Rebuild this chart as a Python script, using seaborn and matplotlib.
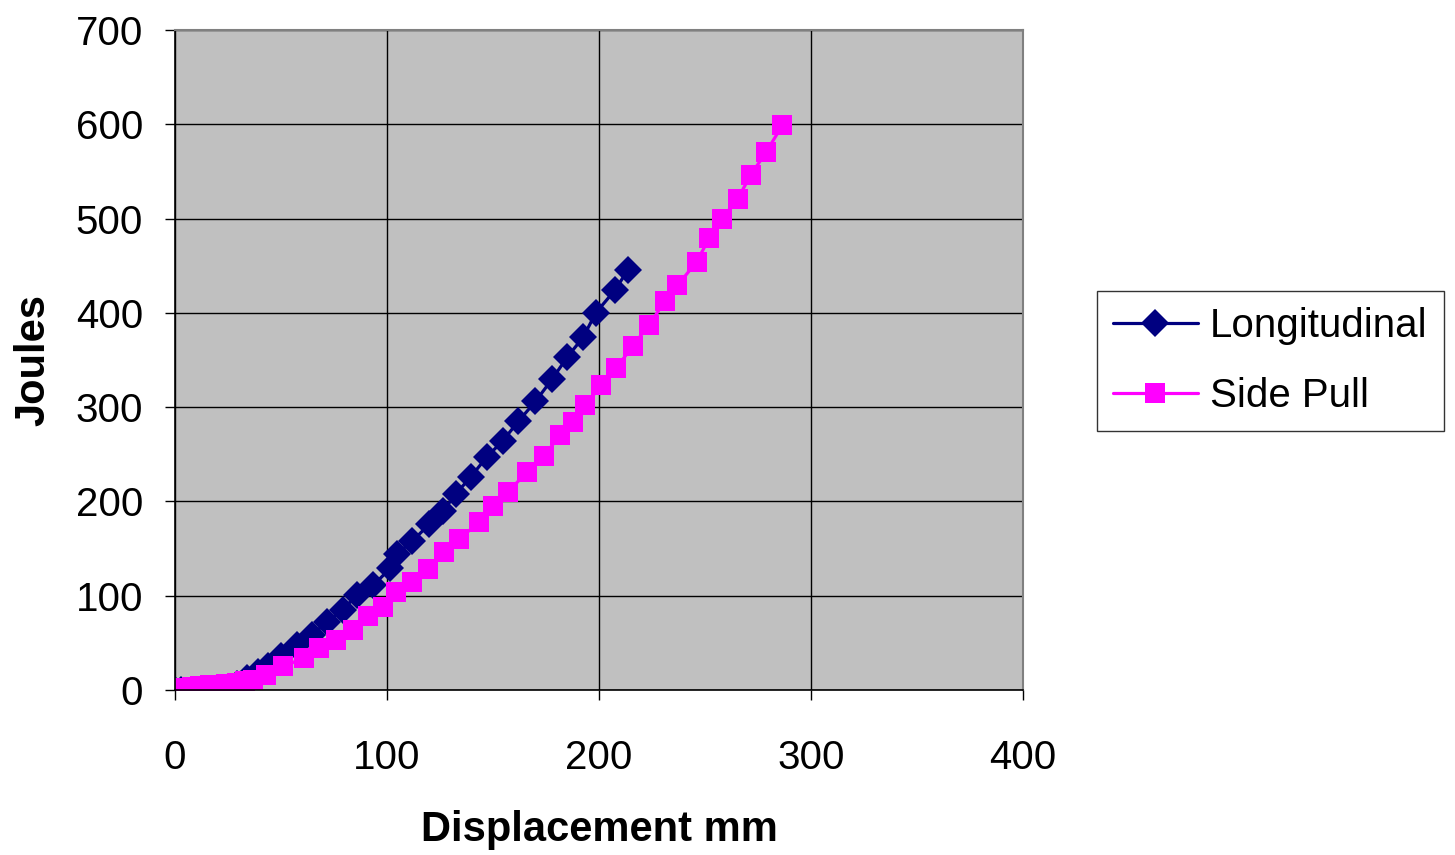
import pandas as pd
import seaborn as sns
import matplotlib.pyplot as plt

# Values
long_mm = [0, 3, 8, 15, 22, 29, 34, 39, 44, 50, 57.5, 64.5, 71.5, 79, 86, 93.5,
           101.5, 104.5, 112, 120, 126.5, 132.5, 139.5, 147, 154.5, 162, 170,
           178, 185, 192.5, 198.5, 207.5, 213.5]
long_j = [0, 0, 0, 0, 1, 6, 13, 19, 25, 36, 48, 58, 72, 85, 101, 111,
          129, 144, 158, 176, 190, 208, 226, 247, 264, 285, 306,
          330, 353, 374, 400, 424, 445]

side_mm = [0, 4, 8, 12, 16.5, 24, 29, 33, 37, 43, 51, 61, 68, 76, 84, 91, 98,
           104, 112, 119.5, 127, 134, 143.5, 150, 157, 166, 174, 181.5, 187.5,
           193.5, 201, 208, 216, 223.5, 231, 237, 246, 252, 258, 265.5, 271.5,
           279, 286.5]
side_j = [0, 2, 3, 4, 5, 6, 7, 9, 11, 16, 25, 34, 44, 53, 64, 78, 88,
          104, 114, 128, 146, 160, 178, 195, 210, 231, 248, 270, 284,
          302, 323, 341, 365, 387, 412, 429, 454, 479, 500, 521, 546,
          571, 599]

series_names = ['Longitudinal', 'Side Pull']
colors = ['#000080', '#FF00FF']

df = pd.concat([
    pd.DataFrame({'mm': long_mm, 'J': long_j, 'series': series_names[0]}),
    pd.DataFrame({'mm': side_mm, 'J': side_j, 'series': series_names[1]}),
])

sns.set_style('white')
plt.rcParams['font.family'] = ['Liberation Sans', 'DejaVu Sans']
plt.rcParams['text.color'] = 'black'
plt.rcParams['axes.labelcolor'] = 'black'
plt.rcParams['xtick.color'] = 'black'
plt.rcParams['ytick.color'] = 'black'

fig = plt.figure(figsize=(14.55, 8.55), dpi=100)
ax = fig.add_axes([0.1203, 0.193, 0.5828, 0.772])
ax.set_facecolor('#C0C0C0')

sns.lineplot(data=df, x='mm', y='J', hue='series', style='series',
             markers=['D', 's'], dashes=False, palette=colors,
             markersize=14.5, linewidth=2.3, markeredgewidth=0,
             sort=False, estimator=None, ax=ax, legend=False)

ax.set_xlim(0, 400)
ax.set_ylim(0, 700)
ax.set_xticks(range(0, 401, 100))
ax.set_yticks(range(0, 701, 100))
ax.grid(True, color='black', linewidth=1)
ax.set_axisbelow(True)

for side in ['top', 'right']:
    ax.spines[side].set_color('#808080')
    ax.spines[side].set_linewidth(1.5)
for side in ['left', 'bottom']:
    ax.spines[side].set_color('black')
    ax.spines[side].set_linewidth(1.2)

ax.tick_params(axis='both', labelsize=29, direction='out', length=7,
               width=1, color='black', labelcolor='black', left=True, bottom=True)
ax.tick_params(axis='x', pad=28)
ax.tick_params(axis='y', pad=16)

ax.set_xlabel('Displacement mm', fontsize=30, fontweight='bold', labelpad=24)
ax.set_ylabel('Joules', fontsize=30, fontweight='bold', labelpad=16)

handles = [plt.Line2D([], [], color=colors[0], marker='D', markersize=14.5,
                      markeredgewidth=0, linewidth=2.3),
           plt.Line2D([], [], color=colors[1], marker='s', markersize=14.5,
                      markeredgewidth=0, linewidth=2.3)]
leg = fig.legend(handles, series_names, loc='center left',
                 bbox_to_anchor=(0.754, 0.578), fontsize=29, frameon=True,
                 fancybox=False, edgecolor='black', handlelength=2.1,
                 handletextpad=0.3, borderpad=0.4, labelspacing=0.8,
                 borderaxespad=0)
leg.get_frame().set_linewidth(1)

fig.savefig('out.png', dpi=100)
